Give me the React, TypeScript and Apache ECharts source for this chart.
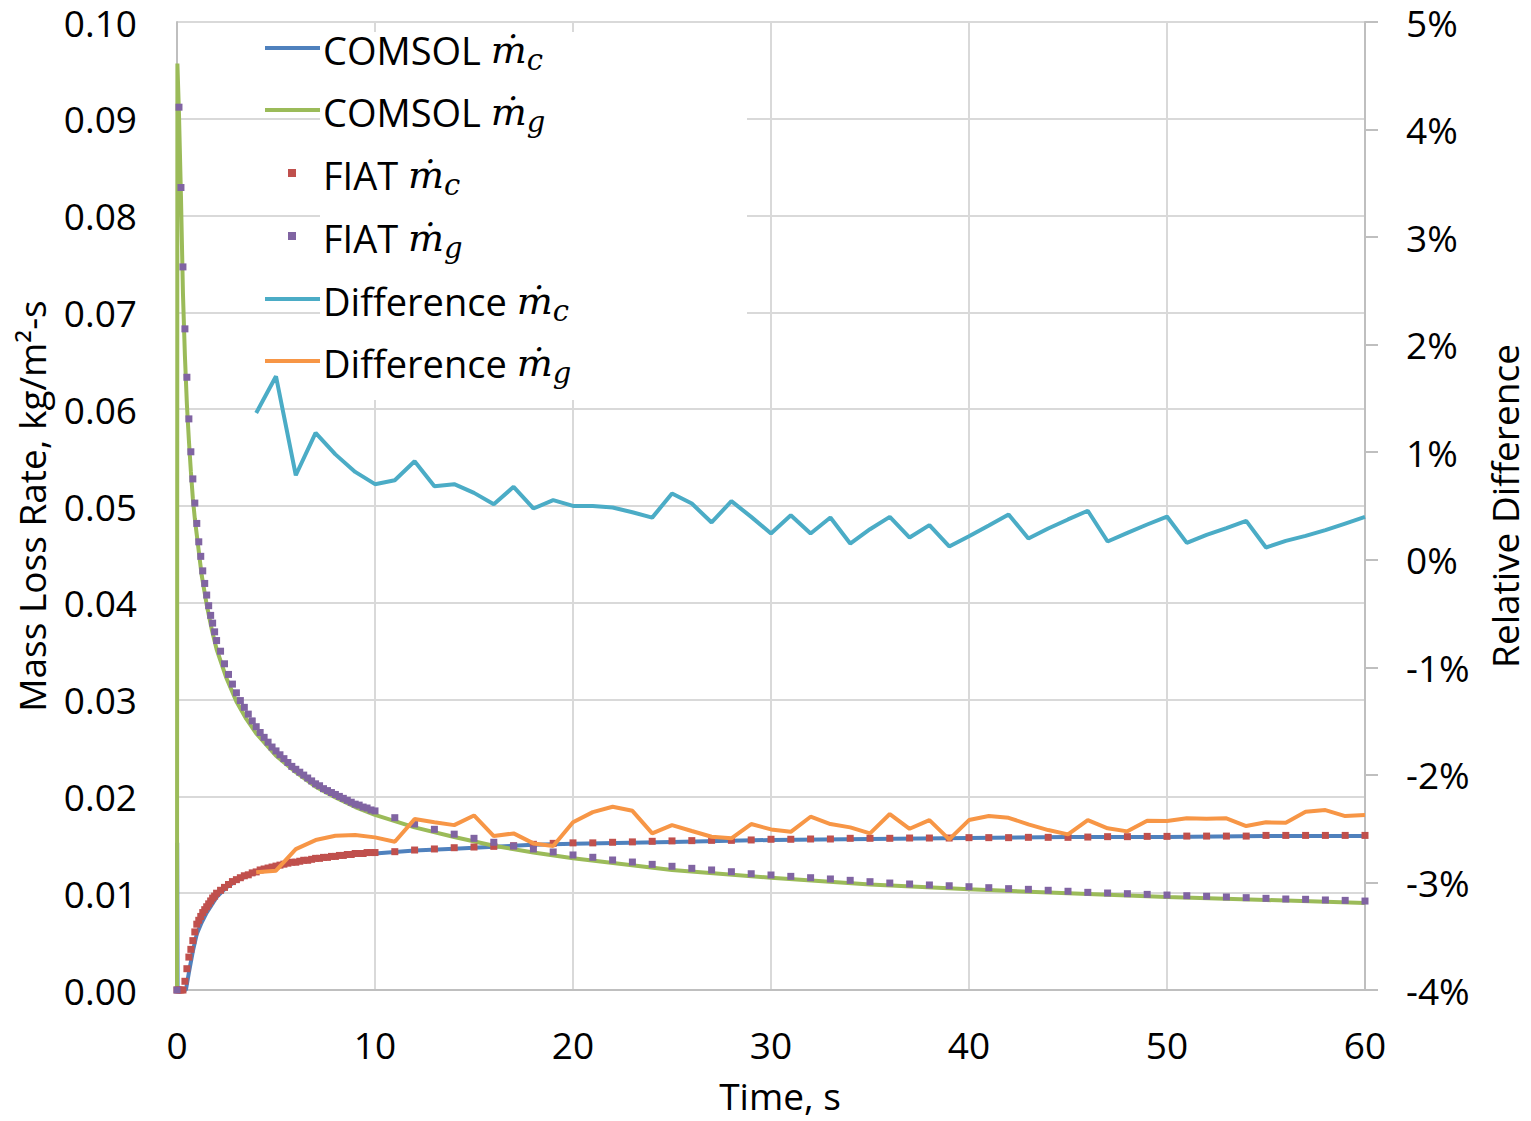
import React, { useEffect, useRef } from 'react';
import * as echarts from 'echarts';

// ---------- DATA ----------
const xTicks = [0, 10, 20, 30, 40, 50, 60];

const comsolMcTime = [0, 0.01, 0.03, 0.45, 0.6, 0.8, 1.0, 1.25, 1.5, 2, 2.5, 3, 4, 5, 6, 7, 8, 9, 10, 12, 14, 16, 18, 20, 25, 30, 35, 40, 45, 50, 55, 60];
const comsolMcValue = [0, 0.0152, 0, 0, 0.0018, 0.004, 0.0058, 0.007, 0.008, 0.0096, 0.0106, 0.0113, 0.0122, 0.0128, 0.0132, 0.0135, 0.0138, 0.014, 0.0141, 0.0144, 0.0146, 0.0148, 0.015, 0.0151, 0.0153, 0.0155, 0.0156, 0.0157, 0.0158, 0.0158, 0.0159, 0.0159];

const comsolMgTime = [0, 0.02, 0.1, 0.2, 0.3, 0.4, 0.5, 0.6, 0.7, 0.8, 0.9, 1.0, 1.25, 1.5, 1.75, 2, 2.5, 3, 3.5, 4, 5, 6, 7, 8, 9, 10, 12, 14, 16, 18, 20, 25, 30, 35, 40, 45, 50, 55, 60];
const comsolMgValue = [0, 0.0957, 0.0905, 0.082, 0.072, 0.0655, 0.0605, 0.0568, 0.0536, 0.0508, 0.0487, 0.047, 0.0428, 0.0398, 0.0373, 0.0352, 0.0322, 0.0298, 0.028, 0.0265, 0.0242, 0.0225, 0.021, 0.0199, 0.0189, 0.0181, 0.0168, 0.0158, 0.0149, 0.0142, 0.0136, 0.0124, 0.0116, 0.0109, 0.0104, 0.01, 0.0096, 0.0093, 0.009];

const fiatTime = [
  0, 0.1, 0.2, 0.3, 0.4, 0.5, 0.6, 0.7, 0.8, 0.9, 1.0, 1.1, 1.2, 1.3, 1.4, 1.5, 1.6, 1.7, 1.8, 1.9, 2.0,
  2.2, 2.4, 2.6, 2.8, 3.0, 3.2, 3.4, 3.6, 3.8, 4.0, 4.2, 4.4, 4.6, 4.8, 5.0, 5.2, 5.4, 5.6, 5.8, 6.0,
  6.2, 6.4, 6.6, 6.8, 7.0, 7.2, 7.4, 7.6, 7.8, 8.0, 8.2, 8.4, 8.6, 8.8, 9.0, 9.2, 9.4, 9.6, 9.8, 10.0,
  11, 12, 13, 14, 15, 16, 17, 18, 19, 20, 21, 22, 23, 24, 25, 26, 27, 28, 29, 30,
  31, 32, 33, 34, 35, 36, 37, 38, 39, 40, 41, 42, 43, 44, 45, 46, 47, 48, 49, 50,
  51, 52, 53, 54, 55, 56, 57, 58, 59, 60,
];
const fiatMc = [
  0, 0, 0, 0, 0.0009, 0.0022, 0.0034, 0.0042, 0.0051, 0.006, 0.0068, 0.0072, 0.0076, 0.008, 0.0083, 0.0086, 0.0089, 0.0092, 0.0095, 0.0097, 0.01,
  0.0103, 0.0106, 0.0109, 0.0112, 0.0114, 0.0116, 0.0118, 0.0119, 0.0121, 0.0122, 0.0124, 0.0125, 0.0126, 0.0127, 0.0128, 0.0129, 0.013, 0.0131, 0.0132, 0.0132,
  0.0133, 0.0134, 0.0134, 0.0135, 0.0136, 0.0136, 0.0137, 0.0137, 0.0138, 0.0138, 0.0139, 0.0139, 0.014, 0.014, 0.0141, 0.0141, 0.0141, 0.0142, 0.0142, 0.0142,
  0.01429, 0.01446, 0.01457, 0.0147, 0.01477, 0.01484, 0.0149, 0.01505, 0.01515, 0.0152,
  0.0152, 0.01526, 0.0153, 0.01536, 0.0154, 0.01543, 0.01546, 0.01546, 0.0155, 0.01557,
  0.01557, 0.0156, 0.0156, 0.01567, 0.01567, 0.01567, 0.0157, 0.0157, 0.0157, 0.01574,
  0.01574, 0.01574, 0.01577, 0.01577, 0.01577, 0.0158, 0.01584, 0.01584, 0.01587, 0.01587,
  0.0159, 0.0159, 0.0159, 0.0159, 0.01597, 0.01597, 0.01597, 0.01597, 0.01597, 0.01597,
];
const fiatMg = [
  0, 0.0912, 0.0829, 0.0747, 0.0683, 0.0633, 0.059, 0.0556, 0.0528, 0.0503, 0.0482, 0.0463, 0.0448, 0.0433, 0.042, 0.0408, 0.0397, 0.0387, 0.0379, 0.037, 0.0361,
  0.035, 0.0337, 0.0326, 0.0316, 0.0307, 0.0299, 0.0292, 0.0285, 0.0278, 0.0272, 0.0266, 0.0261, 0.0256, 0.0251, 0.0247, 0.0243, 0.0239, 0.0235, 0.0231, 0.0228,
  0.0225, 0.0222, 0.0219, 0.0216, 0.0213, 0.0211, 0.0208, 0.0206, 0.0204, 0.0202, 0.02, 0.0198, 0.0196, 0.0194, 0.0192, 0.0191, 0.0189, 0.0188, 0.0186, 0.0185,
  0.0178, 0.01715, 0.0166, 0.0161, 0.01567, 0.01526, 0.01488, 0.01457, 0.01426, 0.01395,
  0.01371, 0.01343, 0.01322, 0.01298, 0.01278, 0.01257, 0.0124, 0.01222, 0.01201, 0.01188,
  0.01174, 0.0116, 0.01147, 0.01133, 0.01119, 0.01105, 0.01095, 0.01085, 0.01077, 0.01067,
  0.01057, 0.01047, 0.0104, 0.0103, 0.0102, 0.01009, 0.01002, 0.00995, 0.00988, 0.00981,
  0.00974, 0.00968, 0.00961, 0.00954, 0.00947, 0.0094, 0.00937, 0.0093, 0.00926, 0.00919,
];

const diffTime = [4, 5, 6, 7, 8, 9, 10, 11, 12, 13, 14, 15, 16, 17, 18, 19, 20, 21, 22, 23, 24, 25, 26, 27, 28, 29, 30, 31, 32, 33, 34, 35, 36, 37, 38, 39, 40, 41, 42, 43, 44, 45, 46, 47, 48, 49, 50, 51, 52, 53, 54, 55, 56, 57, 58, 59, 60];
// relative difference, %
const diffMc = [1.365, 1.706, 0.786, 1.18, 0.98, 0.817, 0.703, 0.74, 0.916, 0.684, 0.703, 0.622, 0.517, 0.678, 0.477, 0.554, 0.501, 0.501, 0.486, 0.442, 0.392, 0.617, 0.523, 0.347, 0.545, 0.399, 0.244, 0.414, 0.244, 0.393, 0.151, 0.284, 0.399, 0.207, 0.322, 0.124, 0.219, 0.319, 0.421, 0.198, 0.291, 0.375, 0.456, 0.17, 0.25, 0.328, 0.402, 0.157, 0.231, 0.294, 0.362, 0.114, 0.176, 0.222, 0.275, 0.337, 0.399];
const diffMg = [-2.906, -2.891, -2.69, -2.606, -2.566, -2.559, -2.581, -2.622, -2.411, -2.441, -2.467, -2.377, -2.569, -2.544, -2.637, -2.662, -2.441, -2.346, -2.296, -2.334, -2.544, -2.467, -2.522, -2.575, -2.59, -2.457, -2.507, -2.529, -2.389, -2.457, -2.488, -2.544, -2.364, -2.501, -2.42, -2.6, -2.42, -2.383, -2.399, -2.46, -2.513, -2.553, -2.42, -2.497, -2.525, -2.427, -2.429, -2.404, -2.408, -2.404, -2.476, -2.441, -2.445, -2.343, -2.327, -2.383, -2.374];

const seriesNames = ['COMSOL ṁc', 'COMSOL ṁg', 'FIAT ṁc', 'FIAT ṁg', 'Difference ṁc', 'Difference ṁg'];
const legendPrefix = ['COMSOL', 'COMSOL', 'FIAT', 'FIAT', 'Difference', 'Difference'];
const legendSub = ['c', 'g', 'c', 'g', 'c', 'g'];

// ---------- STYLE ----------
const FONT = "'Open Sans', sans-serif";
const COLORS = ['#4f81bd', '#9bbb59', '#c0504d', '#8064a2', '#4bacc6', '#f79646'];
const GRID = { left: 177, right: 166, top: 22, bottom: 131 };

const zip = (t: number[], v: number[]) => t.map((x, i) => [x, v[i]]);

function buildOption() {
  const legendY = [48, 110, 173, 236, 299, 361];
  const legendGraphics: any[] = [
    { type: 'rect', shape: { x: 320, y: 32, width: 427, height: 368 }, style: { fill: '#ffffff' }, z: 1 },
  ];
  legendY.forEach((y, i) => {
    const isMarker = i === 2 || i === 3;
    if (isMarker) {
      legendGraphics.push({ type: 'rect', shape: { x: 288, y: y - 4, width: 8, height: 8 }, style: { fill: COLORS[i] }, z: 10 });
    } else {
      legendGraphics.push({ type: 'line', shape: { x1: 265, y1: y, x2: 320, y2: y }, style: { stroke: COLORS[i], lineWidth: 4 }, z: 10 });
    }
    legendGraphics.push({
      type: 'text',
      x: 323,
      y: y + 2,
      z: 10,
      style: {
        text: `{a|${legendPrefix[i]} }{m|ṁ}{s|${legendSub[i]}}`,
        align: 'left',
        verticalAlign: 'middle',
        fill: '#000',
        rich: {
          a: { fontFamily: FONT, fontSize: 38, fill: '#000', color: '#000' },
          m: { fontFamily: "'DejaVu Serif', serif", fontStyle: 'italic', fontSize: 38, fill: '#000', color: '#000' },
          s: { fontFamily: "'DejaVu Serif', serif", fontStyle: 'italic', fontSize: 29, fill: '#000', color: '#000', padding: [20, 0, 0, 0] },
        },
      },
    });
  });

  const labelStyle = { fontFamily: FONT, fontSize: 37, color: '#000', lineHeight: 34 };

  return {
    animation: false,
    backgroundColor: '#ffffff',
    grid: { ...GRID, containLabel: false, outerBoundsMode: 'none' },
    xAxis: {
      type: 'value',
      min: 0,
      max: 60,
      interval: 10,
      name: 'Time, s',
      nameLocation: 'middle',
      nameGap: 88,
      nameTextStyle: { ...labelStyle, padding: [0, 0, 0, 18] },
      axisLine: { show: true, lineStyle: { color: '#bfbfbf', width: 2 } },
      axisTick: { show: false },
      axisLabel: { ...labelStyle, margin: 37, formatter: (v: number) => String(v), customValues: xTicks },
      splitLine: { show: true, lineStyle: { color: '#d9d9d9', width: 2 } },
    },
    yAxis: [
      {
        type: 'value',
        min: 0,
        max: 0.1,
        interval: 0.01,
        position: 'left',
        name: 'Mass Loss Rate, kg/m²-s',
        nameLocation: 'middle',
        nameRotate: 90,
        nameGap: 129,
        nameTextStyle: labelStyle,
        axisLine: { show: true, lineStyle: { color: '#bfbfbf', width: 2 } },
        axisTick: { show: false },
        axisLabel: { ...labelStyle, margin: 40, formatter: (v: number) => v.toFixed(2) },
        splitLine: { show: true, lineStyle: { color: '#d9d9d9', width: 2 } },
      },
      {
        type: 'value',
        min: -4,
        max: 5,
        interval: 1,
        position: 'right',
        name: 'Relative Difference',
        nameLocation: 'middle',
        nameRotate: 90,
        nameGap: 122,
        nameTextStyle: labelStyle,
        axisLine: { show: true, lineStyle: { color: '#bfbfbf', width: 2 } },
        axisTick: { show: true, length: 13, lineStyle: { color: '#bfbfbf', width: 2 } },
        axisLabel: { ...labelStyle, margin: 41, formatter: (v: number) => `${Math.round(v)}%` },
        splitLine: { show: false },
      },
    ],
    graphic: legendGraphics,
    series: [
      {
        name: seriesNames[0], type: 'line', yAxisIndex: 0, data: zip(comsolMcTime, comsolMcValue),
        showSymbol: false, symbol: 'none', lineStyle: { color: COLORS[0], width: 4 }, itemStyle: { color: COLORS[0] }, z: 2,
      },
      {
        name: seriesNames[1], type: 'line', yAxisIndex: 0, data: zip(comsolMgTime, comsolMgValue),
        showSymbol: false, symbol: 'none', lineStyle: { color: COLORS[1], width: 4 }, itemStyle: { color: COLORS[1] }, z: 3,
      },
      {
        name: seriesNames[2], type: 'scatter', yAxisIndex: 0, data: zip(fiatTime, fiatMc),
        symbol: 'rect', symbolSize: 7, itemStyle: { color: COLORS[2], opacity: 1 }, z: 4,
      },
      {
        name: seriesNames[3], type: 'scatter', yAxisIndex: 0, data: zip(fiatTime, fiatMg),
        symbol: 'rect', symbolSize: 7, itemStyle: { color: COLORS[3], opacity: 1 }, z: 5,
      },
      {
        name: seriesNames[4], type: 'line', yAxisIndex: 1, data: zip(diffTime, diffMc),
        showSymbol: false, symbol: 'none', lineStyle: { color: COLORS[4], width: 4 }, itemStyle: { color: COLORS[4] }, z: 6,
      },
      {
        name: seriesNames[5], type: 'line', yAxisIndex: 1, data: zip(diffTime, diffMg),
        showSymbol: false, symbol: 'none', lineStyle: { color: COLORS[5], width: 4 }, itemStyle: { color: COLORS[5] }, z: 7,
      },
    ],
  };
}

export default function App() {
  const ref = useRef<HTMLDivElement>(null);
  useEffect(() => {
    if (!ref.current) return;
    const chart = echarts.init(ref.current, undefined, { renderer: 'svg' });
    chart.setOption(buildOption() as any);
    return () => chart.dispose();
  }, []);
  return (
    <div
      ref={ref}
      style={{ position: 'absolute', left: 0, top: 0, width: 1531, height: 1121, background: '#ffffff' }}
    />
  );
}
